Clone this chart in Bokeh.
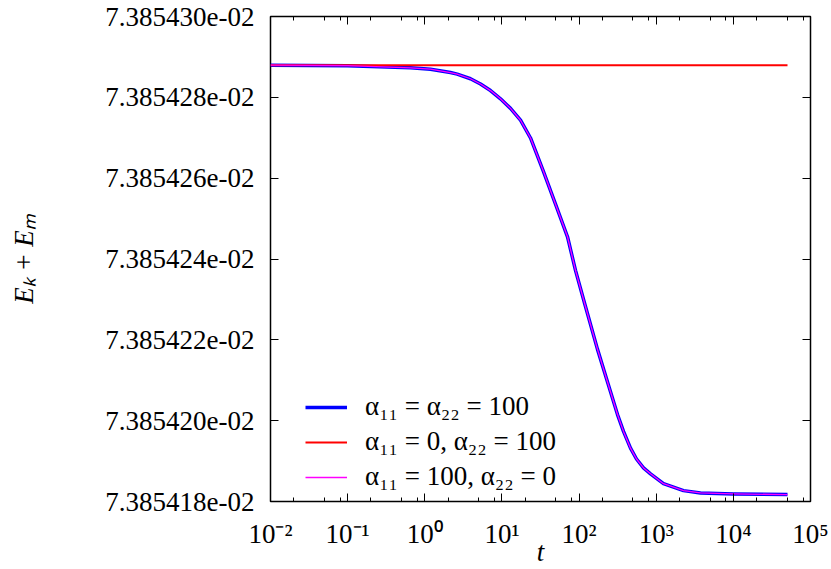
from bokeh.plotting import figure
from bokeh.models import (Range1d, FixedTicker, CustomJSTickFormatter, LogAxis,
                          LinearAxis, Legend, LegendItem)
from bokeh.embed import file_html
from bokeh.resources import INLINE

# ---- data ----
t_vals = [0.01, 0.0996, 0.653, 1.186, 2.154, 2.632, 3.913, 5.275, 7.112,
          9.583, 12.92, 17.41, 23.47, 34.58, 49.49, 70.79, 89.89, 117.6,
          173.4, 233.7, 314.9, 376.6, 464.2, 555.1, 684.3, 843.4, 1243.0,
          2258.0, 3751.0, 10040.0, 50350.0]
e_both = [0.07385428795, 0.07385428783, 0.07385428729, 0.07385428697,
          0.07385428614, 0.07385428575, 0.07385428460, 0.07385428331,
          0.07385428167, 0.07385427964, 0.07385427727, 0.07385427434,
          0.07385426994, 0.07385426163, 0.07385425356, 0.07385424550,
          0.07385423719, 0.07385422912, 0.07385421764, 0.07385420957,
          0.07385420151, 0.07385419735, 0.07385419320, 0.07385419051,
          0.07385418831, 0.07385418684, 0.07385418440, 0.07385418269,
          0.07385418213, 0.07385418188, 0.07385418171]
e_a11_100 = list(e_both)          # alpha11=100, alpha22=0 (overlaps the blue curve)
t_flat = [0.01, 50350.0]
e_a11_0 = [0.07385428795, 0.07385428795]   # alpha11=0, alpha22=100

labels = ["\u03b1\u2081\u2081 = \u03b1\u2082\u2082 = 100",
          "\u03b1\u2081\u2081 = 0, \u03b1\u2082\u2082 = 100",
          "\u03b1\u2081\u2081 = 100, \u03b1\u2082\u2082 = 0"]

x_ticks = [1e-2, 1e-1, 1e0, 1e1, 1e2, 1e3, 1e4, 1e5]
x_tick_labels = ["10\u207b\u00b2", "10\u207b\u00b9", "10\u2070", "10\u00b9",
                 "10\u00b2", "10\u00b3", "10\u2074", "10\u2075"]
x_minor = [m * 10.0 ** k for k in range(-2, 5) for m in (2, 5, 8)]
y_ticks = [7.385418e-2, 7.385420e-2, 7.385422e-2, 7.385424e-2,
           7.385426e-2, 7.385428e-2, 7.385430e-2]
y_tick_labels = ["7.385418e-02", "7.385420e-02", "7.385422e-02", "7.385424e-02",
                 "7.385426e-02", "7.385428e-02", "7.385430e-02"]

FONT = "Liberation Serif"
FS = "27px"

p = figure(width=831, height=569, output_backend="svg", toolbar_location=None,
           x_axis_type="log", x_range=Range1d(1e-2, 1e5),
           y_range=Range1d(7.385418e-2, 7.385430e-2),
           min_border_left=270, min_border_right=21, min_border_top=16,
           min_border_bottom=68)
p.grid.visible = False
p.outline_line_color = "black"
p.outline_line_width = 1.5
p.background_fill_color = "white"
p.border_fill_color = "white"

r1 = p.line(t_vals, e_both, line_color="#0000ff", line_width=3.5,
            line_join="round")
r2 = p.line(t_flat, e_a11_0, line_color="#ff0000", line_width=2)
r3 = p.line(t_vals, e_a11_100, line_color="#ff00ff", line_width=1.3,
            line_join="round")

code = """
let best = 0;
for (let i = 0; i < vals.length; i++) {
  if (Math.abs(vals[i] - tick) < Math.abs(vals[best] - tick)) best = i;
}
return labs[best];
"""
xfmt = CustomJSTickFormatter(args=dict(vals=x_ticks, labs=x_tick_labels), code=code)
yfmt = CustomJSTickFormatter(args=dict(vals=y_ticks, labs=y_tick_labels), code=code)
blank = CustomJSTickFormatter(code="return '';")

xt = FixedTicker(ticks=x_ticks, minor_ticks=x_minor)
yt = FixedTicker(ticks=y_ticks, minor_ticks=[])


def style(ax):
    ax.axis_line_color = None
    ax.major_tick_in = 8
    ax.major_tick_out = 0
    ax.minor_tick_in = 4
    ax.minor_tick_out = 0
    ax.major_tick_line_color = "black"
    ax.minor_tick_line_color = "black"
    ax.major_tick_line_width = 1
    ax.minor_tick_line_width = 1
    ax.major_label_text_font = FONT
    ax.major_label_text_color = "black"
    ax.major_label_text_font_size = FS
    ax.axis_label_text_font = FONT
    ax.axis_label_text_font_size = FS
    ax.axis_label_text_color = "black"


xa = p.xaxis[0]
xa.ticker = xt
xa.formatter = xfmt
style(xa)
xa.major_label_standoff = 17
xa.axis_label = "t"
xa.axis_label_text_font_style = "italic"
xa.axis_label_standoff = -15

ya = p.yaxis[0]
ya.ticker = yt
ya.formatter = yfmt
style(ya)
ya.major_label_standoff = 16
ya.axis_label = "E\u2096 + E\u2098"
ya.axis_label_text_font_style = "italic"
ya.axis_label_standoff = 63

top = LogAxis(ticker=xt, formatter=blank)
style(top)
top.major_label_standoff = 0
p.add_layout(top, "above")
right = LinearAxis(ticker=yt, formatter=blank)
style(right)
right.major_label_standoff = 0
p.add_layout(right, "right")

legend = Legend(items=[LegendItem(label=labels[0], renderers=[r1]),
                       LegendItem(label=labels[1], renderers=[r2]),
                       LegendItem(label=labels[2], renderers=[r3])],
                location=(35, 7))
legend.border_line_color = None
legend.background_fill_alpha = 0
legend.label_text_font = FONT
legend.label_text_font_size = FS
legend.label_text_color = "black"
legend.glyph_width = 42
legend.glyph_height = 30
legend.label_height = 35
legend.spacing = 0
legend.padding = 0
legend.margin = 0
legend.label_standoff = 18
p.add_layout(legend, "center")

open("out.html", "w").write(file_html(p, INLINE))
